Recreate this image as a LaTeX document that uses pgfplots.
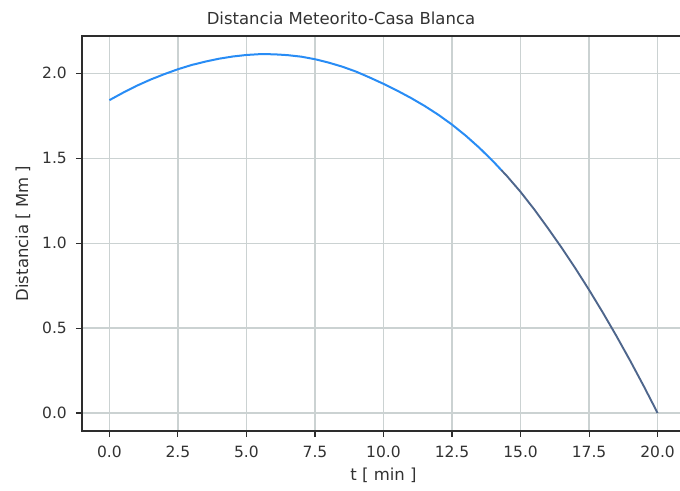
\documentclass[border=0pt]{standalone}
\usepackage{fontspec}
\setmainfont{DejaVu Sans}
\usepackage{pgfplots}
\pgfplotsset{compat=1.18}

\definecolor{gridc}{RGB}{203,210,210}
\definecolor{spine}{RGB}{45,45,45}
\definecolor{ticktext}{RGB}{50,50,50}
\definecolor{lineA}{RGB}{40,140,245}
\definecolor{lineB}{RGB}{78,102,140}

\begin{document}
\begin{tikzpicture}
\useasboundingbox (-82pt,-59pt) rectangle (598pt,431pt);
\clip (-82pt,-59pt) rectangle (598pt,431pt);
\begin{axis}[
  at={(0pt,0pt)}, anchor=south west,
  scale only axis, width=603pt, height=395pt,
  xmin=-1, xmax=21, ymin=-0.1057, ymax=2.2197,
  xtick={0,2.5,5,7.5,10,12.5,15,17.5,20},
  ytick={0,0.5,1,1.5,2},
  tick pos=left, tick align=outside,
  major tick length=6pt,
  tick style={spine, line width=1.1pt},
  axis line style={spine, line width=1.2pt},
  grid=major,
  grid style={gridc, line width=1.3pt},
  /pgf/number format/fixed,
  /pgf/number format/fixed zerofill,
  /pgf/number format/precision=1,
  /pgf/number format/assume math mode=true,
  ticklabel style={font=\fontsize{15.5}{18}\selectfont, text=ticktext},
  xticklabel style={anchor=base, inner sep=0pt, yshift=-20pt},
  yticklabel style={anchor=east, inner sep=0pt, xshift=-9pt},
  title={Distancia Meteorito-Casa Blanca},
  title style={at={(axis description cs:0.4295,1)}, anchor=base,
    yshift=5pt, inner sep=0pt, font=\fontsize{16.5}{19}\selectfont, text=ticktext},
  xlabel={t [ min ]},
  xlabel style={at={(axis description cs:0.5,0)}, anchor=base,
    yshift=-49pt, inner sep=0pt, font=\fontsize{16.5}{19}\selectfont, text=ticktext},
  ylabel={Distancia [ Mm ]},
  ylabel style={at={(axis description cs:-0.0978,0.5)}, anchor=center,
    inner sep=0pt, font=\fontsize{16.5}{19}\selectfont, text=ticktext},
]
% distance while the meteorite is still far away
\addplot[lineA, line width=2pt] coordinates {
  (0,1.842) (0.5,1.886) (1,1.927) (1.5,1.963) (2,1.995) (2.5,2.024)
  (3,2.049) (3.5,2.069) (4,2.086) (4.5,2.099) (5,2.108) (5.5,2.113)
  (6,2.112) (6.5,2.107) (7,2.098) (7.5,2.083) (8,2.063) (8.5,2.039)
  (9,2.010) (9.5,1.975) (10,1.938) (10.5,1.898) (11,1.855) (11.5,1.808)
  (12,1.756) (12.5,1.698) (13,1.633) (13.5,1.561) (14,1.482) (14.3,1.430)
};
% final approach
\addplot[lineB, line width=1.9pt] coordinates {
  (14.3,1.430) (14.5,1.396) (15,1.302) (15.5,1.199) (16,1.088) (16.5,0.973)
  (17,0.852) (17.5,0.725) (18,0.592) (18.5,0.453) (19,0.308) (19.5,0.157)
  (20,0.0)
};
\end{axis}
\end{tikzpicture}
\end{document}
